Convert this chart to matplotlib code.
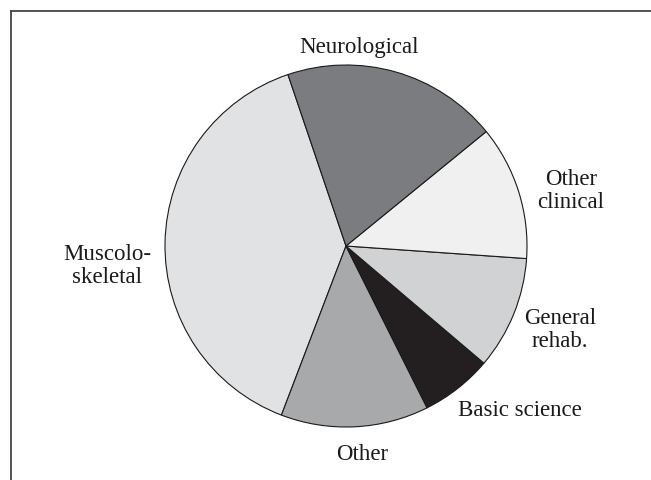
import matplotlib.pyplot as plt
from matplotlib.lines import Line2D

W, H = 651, 481

# slice shares (%), ordered counter-clockwise from the Neurological/Muscolo edge
labels = ["Muscolo-\nskeletal", "Other", "Basic science", "General\nrehab.", "Other\nclinical", "Neurological"]
shares = [39.0, 13.2, 6.4, 10.1, 12.0, 19.3]
colors = ["#e1e2e3", "#a7a9ab", "#231f20", "#d1d2d3", "#f0f0f0", "#7b7c7f"]

# label centres in pixels (x from left, y from top)
label_x = [107, 362, 520, 560, 571, 359]
label_y = [266, 455, 411, 330, 191, 47]

plt.rcParams["font.family"] = ["Liberation Serif", "DejaVu Serif"]

fig = plt.figure(figsize=(W / 100, H / 100), dpi=100)
ax = fig.add_axes([0, 0, 1, 1])

ax.pie(shares, colors=colors, startangle=108.7, counterclock=True,
       center=(346, H - 247), radius=181,
       wedgeprops=dict(edgecolor="#1a1a1a", linewidth=0.8))
ax.set_aspect("equal")
ax.set_xlim(0, W)
ax.set_ylim(0, H)
ax.set_axis_off()

for lab, x, y in zip(labels, label_x, label_y):
    fig.text(x / W, 1 - y / H, lab, ha="center", va="center",
             fontsize=16.5, color="#1a1a1a", linespacing=1.13)

# partial frame (top and left edges visible)
fig.add_artist(Line2D([11 / W, 1.0], [1 - 12 / H, 1 - 12 / H],
                      transform=fig.transFigure, color="#444444", lw=1.3))
fig.add_artist(Line2D([11 / W, 11 / W], [1 - 12 / H, 0.0],
                      transform=fig.transFigure, color="#444444", lw=1.3))

fig.savefig("out.png", dpi=100)
